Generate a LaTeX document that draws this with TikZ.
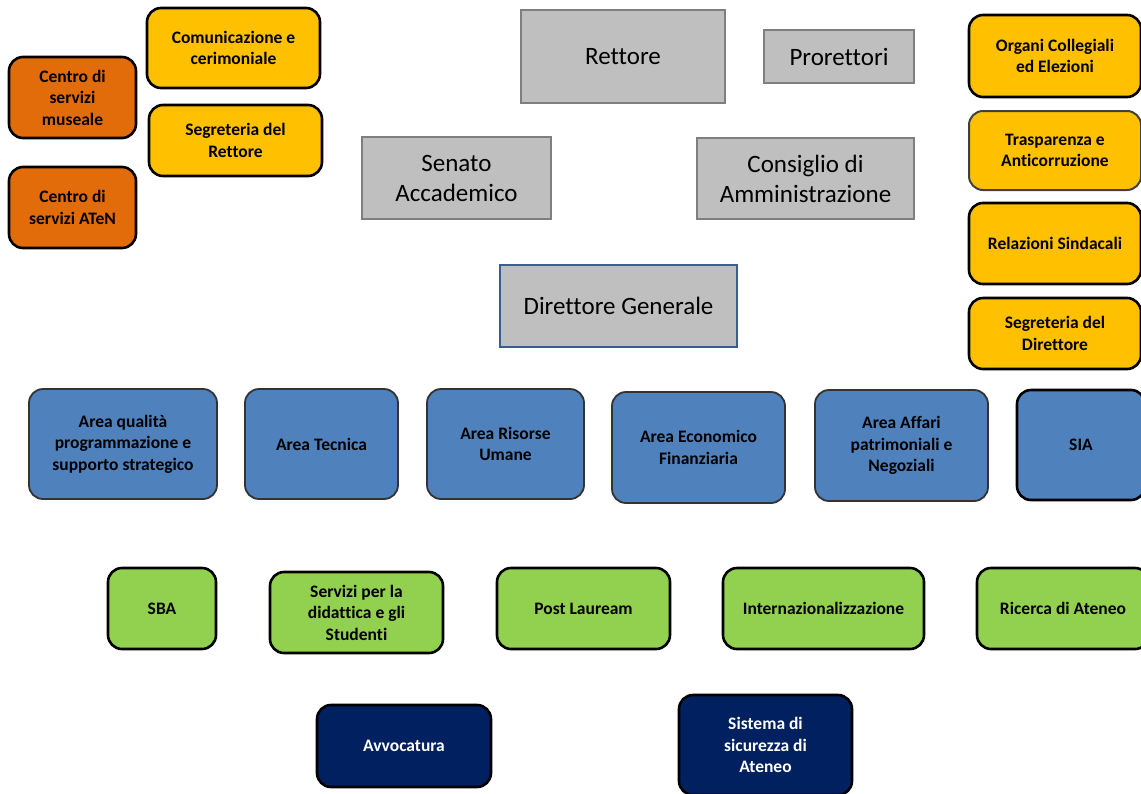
\documentclass[tikz,border=0pt]{standalone}
\usepackage{fontspec}
\setmainfont{Carlito}[Ligatures=NoCommon]
\definecolor{orgbox}{HTML}{E36C0A}
\definecolor{yelbox}{HTML}{FFC000}
\definecolor{grybox}{HTML}{BFBFBF}
\definecolor{gryline}{HTML}{7F7F7F}
\definecolor{blubox}{HTML}{4F81BD}
\definecolor{bluline}{HTML}{3A5F8E}
\definecolor{grnbox}{HTML}{92D050}
\definecolor{navbox}{HTML}{002060}
\begin{document}
\begin{tikzpicture}[x=1pt,y=-1pt,
  base/.style={rounded corners=14pt, align=center, inner sep=2pt, line width=2.6pt, draw=black,
    font=\fontsize{17.5}{21.5}\selectfont\bfseries},
  orangebox/.style={base, fill=orgbox},
  yellowbox/.style={base, fill=yelbox},
  bluebox/.style={base, fill=blubox, draw=black!80, line width=1.8pt},
  greenbox/.style={base, fill=grnbox},
  navybox/.style={base, fill=navbox, text=white},
  greybox/.style={rectangle, align=center, fill=grybox, draw=gryline, line width=2.6pt, inner sep=2pt,
    font=\fontsize{25}{30}\selectfont},
  dirbox/.style={greybox, draw=bluline},
]
\useasboundingbox (0,0) rectangle (1141,793);
% left column
\node[yellowbox, minimum width=173pt, minimum height=80pt] (com) at (233.5,48) {Comunicazione e\\cerimoniale};
\node[yellowbox, minimum width=173pt, minimum height=71pt] (segr) at (235.5,140.5) {Segreteria del\\Rettore};
\node[orangebox, minimum width=127pt, minimum height=81pt] (mus) at (72.5,97.5) {Centro di\\servizi\\museale};
\node[orangebox, minimum width=127pt, minimum height=81pt] (aten) at (72.5,207.5) {Centro di\\servizi ATeN};
% centre
\node[greybox, minimum width=204pt, minimum height=93pt] (ret) at (623,56.5) {Rettore};
\node[greybox, minimum width=150pt, minimum height=53pt] (pro) at (839,56.5) {Prorettori};
\node[greybox, minimum width=189pt, minimum height=82pt] (sen) at (456.5,178) {Senato\\Accademico};
\node[greybox, minimum width=217pt, minimum height=81pt] (cda) at (805.5,178.5) {Consiglio di\\Amministrazione};
\node[dirbox, minimum width=237pt, minimum height=82pt] (dg) at (618.5,306) {Direttore Generale};
% right column
\node[yellowbox, minimum width=172pt, minimum height=82pt] (org) at (1055,56) {Organi Collegiali\\ed Elezioni};
\node[yellowbox, minimum width=172pt, minimum height=79pt, draw=black!75, line width=2pt] (tra) at (1055,150.5) {Trasparenza e\\Anticorruzione};
\node[yellowbox, minimum width=172pt, minimum height=81pt] (rel) at (1055,243.5) {Relazioni Sindacali};
\node[yellowbox, minimum width=172pt, minimum height=71pt] (sdir) at (1055,333.5) {Segreteria del\\Direttore};
% blue row
\node[bluebox, minimum width=188pt, minimum height=110pt] (aq) at (123,444) {Area qualità\\programmazione e\\supporto strategico};
\node[bluebox, minimum width=153pt, minimum height=110pt] (at) at (321.5,444) {Area Tecnica};
\node[bluebox, minimum width=157pt, minimum height=110pt] (aru) at (505.5,444) {Area Risorse\\Umane};
\node[bluebox, minimum width=173pt, minimum height=111pt] (aef) at (698.5,447.5) {Area Economico\\Finanziaria};
\node[bluebox, minimum width=173pt, minimum height=111pt] (aap) at (901.5,445.5) {Area Affari\\patrimoniali e\\Negoziali};
\node[bluebox, draw=black, line width=2.6pt, minimum width=128pt, minimum height=110pt] (sia) at (1081,445) {SIA};
% green row
\node[greenbox, minimum width=108pt, minimum height=81pt] (sba) at (162,608.5) {SBA};
\node[greenbox, minimum width=173pt, minimum height=81pt] (sds) at (356.5,612.5) {Servizi per la\\didattica e gli\\Studenti};
\node[greenbox, minimum width=173pt, minimum height=81pt] (pl) at (583.5,608.5) {Post Lauream};
\node[greenbox, minimum width=201pt, minimum height=81pt] (int) at (823.5,608.5) {Internazionalizzazione};
\node[greenbox, minimum width=172pt, minimum height=81pt] (ric) at (1063,608.5) {Ricerca di Ateneo};
% navy row
\node[navybox, minimum width=174pt, minimum height=82pt] (avv) at (404,746) {Avvocatura};
\node[navybox, minimum width=173pt, minimum height=100pt] (sic) at (765.5,745) {Sistema di\\sicurezza di\\Ateneo};
\end{tikzpicture}
\end{document}
